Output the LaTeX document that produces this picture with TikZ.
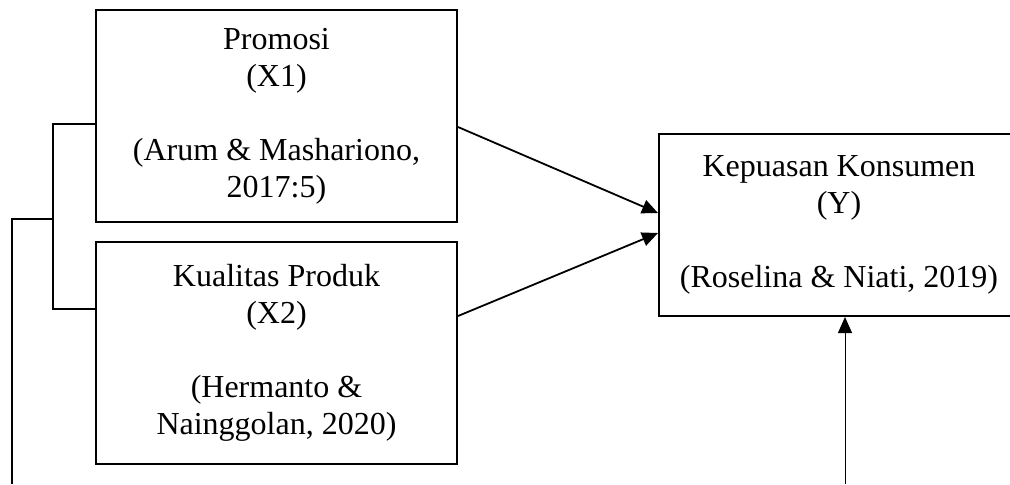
\documentclass[tikz,border=0pt]{standalone}
\usepackage{fontspec}
\setmainfont{Liberation Serif}
\usetikzlibrary{arrows.meta,positioning,calc}

\begin{document}
\begin{tikzpicture}[
    x=0.5pt, y=-0.5pt,
    var/.style={draw, line width=1pt, align=center, inner sep=0pt, font=\fontsize{16pt}{18.5pt}\selectfont},
    arrow/.style={-{Triangle[length=8pt, width=7pt]}, line width=0.9pt},
    link/.style={line width=1pt}
]
\useasboundingbox (0,0) rectangle (1010,484);

\node[var, minimum width=180.5pt, minimum height=106pt] (promosi) at (276.5,116)
    {Promosi\\(X1)\\[18.5pt](Arum \& Mashariono,\\2017:5)};
\node[var, minimum width=180.5pt, minimum height=111pt] (kualitas) at (276.5,353)
    {Kualitas Produk\\(X2)\\[18.5pt](Hermanto \&\\Nainggolan, 2020)};
\node[var, minimum width=180pt, minimum height=91pt] (kepuasan) at (839,225)
    {Kepuasan Konsumen\\(Y)\\[18.5pt](Roselina \& Niati, 2019)};

\coordinate (j1) at (53,219);
\coordinate (j2) at (12,484);
\coordinate (yin) at (845,484);

\draw[arrow] ([yshift=-5.5pt]promosi.east) -- ([yshift=6pt]kepuasan.west);
\draw[arrow] ([yshift=18.5pt]kualitas.east) -- ([yshift=-4pt]kepuasan.west);
\draw[arrow, line width=0.5pt] (yin) -- (yin |- kepuasan.south);

\draw[link] ([yshift=-4pt]promosi.west) -| (j1) |- ([yshift=22pt]kualitas.west);
\draw[link] (j1) -| (j2);
\end{tikzpicture}
\end{document}
